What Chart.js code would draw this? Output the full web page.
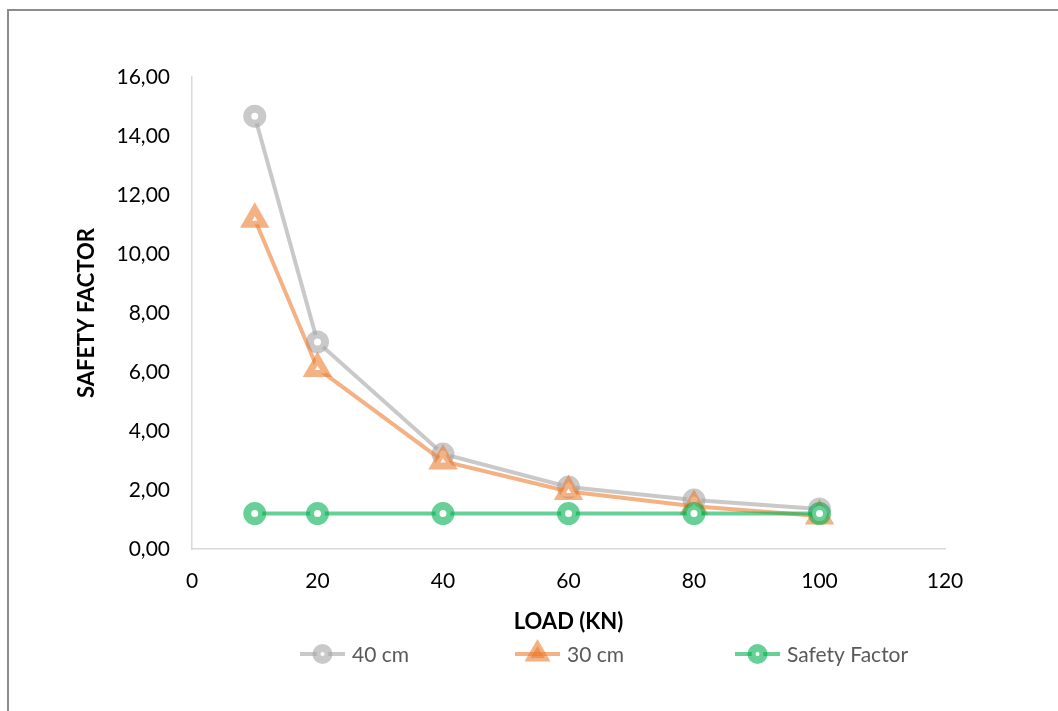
<!DOCTYPE html>
<html>
<head>
<meta charset="utf-8">
<script src="https://cdn.jsdelivr.net/npm/chart.js@4.4.0/dist/chart.umd.min.js"></script>
<style>
  html, body { margin: 0; padding: 0; background: #ffffff; }
  #wrap { position: relative; width: 1058px; height: 711px; overflow: hidden; }
  #frame { position: absolute; left: 7px; top: 9px; width: 1100px; height: 800px;
           border-top: 2px solid #8c8c8c; border-left: 2px solid #8c8c8c; box-sizing: border-box; }
  canvas { position: absolute; left: 0; top: 0; }
</style>
</head>
<body>
<div id="wrap">
  <div id="frame"></div>
  <canvas id="c" width="1058" height="711"></canvas>
</div>
<script>
// ---- data ----
const loads = [10, 20, 40, 60, 80, 100];
const sf40cm = [14.67, 7.02, 3.22, 2.10, 1.66, 1.36];
const sf30cm = [11.18, 6.12, 2.98, 1.95, 1.45, 1.12];
const sfLimit = [1.2, 1.2, 1.2, 1.2, 1.2, 1.2];
const seriesNames = ['40 cm', '30 cm', 'Safety Factor'];
const xTickValues = [0, 20, 40, 60, 80, 100, 120];
const yTickValues = [0, 2, 4, 6, 8, 10, 12, 14, 16];
const xTitle = 'LOAD (KN)';
const yTitle = 'SAFETY FACTOR';

const pts = (ys) => loads.map((x, i) => ({ x: x, y: ys[i] }));

const FONT = 'Lato, "Open Sans", "DejaVu Sans", sans-serif';

function ds(label, ys, color, style, radius, bw, order) {
  return {
    label: label,
    data: pts(ys),
    borderColor: color,
    borderWidth: 4,
    pointStyle: style,
    pointRadius: radius,
    pointBorderWidth: bw,
    pointBorderColor: color,
    pointBackgroundColor: '#ffffff',
    pointHoverRadius: radius,
    tension: 0,
    fill: false,
    order: order
  };
}

const datasets = [
  ds(seriesNames[0], sf40cm, 'rgba(165,165,165,0.6)', 'circle', 7.5, 8, 3),
  ds(seriesNames[1], sf30cm, 'rgba(237,125,49,0.6)', 'triangle', 10, 7, 2),
  ds(seriesNames[2], sfLimit, 'rgba(0,176,80,0.6)', 'circle', 7.5, 8, 1)
];

const legendX = [300, 515, 735];
const legendY = 654;

const customLegend = {
  id: 'customLegend',
  afterDraw(chart) {
    const ctx = chart.ctx;
    chart.data.datasets.forEach((d, i) => {
      const x = legendX[i];
      ctx.save();
      ctx.strokeStyle = d.borderColor;
      ctx.lineWidth = d.borderWidth;
      ctx.beginPath();
      ctx.moveTo(x, legendY);
      ctx.lineTo(x + 45, legendY);
      ctx.stroke();
      ctx.fillStyle = d.pointStyle === 'triangle' ? d.pointBorderColor : '#ffffff';
      ctx.strokeStyle = d.pointBorderColor;
      ctx.lineWidth = d.pointBorderWidth;
      Chart.helpers.drawPoint(ctx, {
        pointStyle: d.pointStyle,
        radius: d.pointStyle === 'triangle' ? 8 : 6,
        borderWidth: d.pointBorderWidth,
        rotation: 0
      }, x + 22.5, legendY);
      ctx.fillStyle = '#595959';
      ctx.font = '21px ' + FONT;
      ctx.textBaseline = 'middle';
      ctx.textAlign = 'left';
      ctx.fillText(d.label, x + 52, legendY + 1);
      ctx.restore();
    });
  }
};

new Chart(document.getElementById('c'), {
  type: 'line',
  data: { datasets: datasets },
  options: {
    responsive: false,
    animation: false,
    events: [],
    layout: { padding: { top: 77, right: 113, bottom: 72, left: 70 } },
    plugins: {
      legend: { display: false },
      tooltip: { enabled: false }
    },
    scales: {
      x: {
        type: 'linear',
        min: 0, max: 120,
        grid: { display: false, drawTicks: false },
        border: { display: true, color: '#d9d9d9', width: 1.5 },
        afterBuildTicks: (s) => { s.ticks = xTickValues.map(v => ({ value: v })); },
        afterFit: (s) => { s.height = 90; },
        ticks: {
          color: '#000000',
          padding: 20,
          font: { family: FONT, size: 21 },
          maxRotation: 0,
          callback: (v) => String(v)
        },
        title: {
          display: true, text: xTitle, color: '#000000',
          font: { family: FONT, size: 22, weight: 'bold' },
          padding: { top: 0, bottom: 4 }
        }
      },
      y: {
        type: 'linear',
        min: 0, max: 16,
        grid: { display: false, drawTicks: false },
        border: { display: true, color: '#d9d9d9', width: 1.5 },
        afterBuildTicks: (s) => { s.ticks = yTickValues.map(v => ({ value: v })); },
        afterFit: (s) => { s.width = 192 - 70; },
        ticks: {
          color: '#000000',
          padding: 22,
          font: { family: FONT, size: 21 },
          callback: (v) => v.toFixed(2).replace('.', ',')
        },
        title: {
          display: true, text: yTitle, color: '#000000',
          font: { family: FONT, size: 22, weight: 'bold' },
          padding: { top: 4, bottom: 0 }
        }
      }
    }
  },
  plugins: [customLegend]
});
</script>
</body>
</html>
